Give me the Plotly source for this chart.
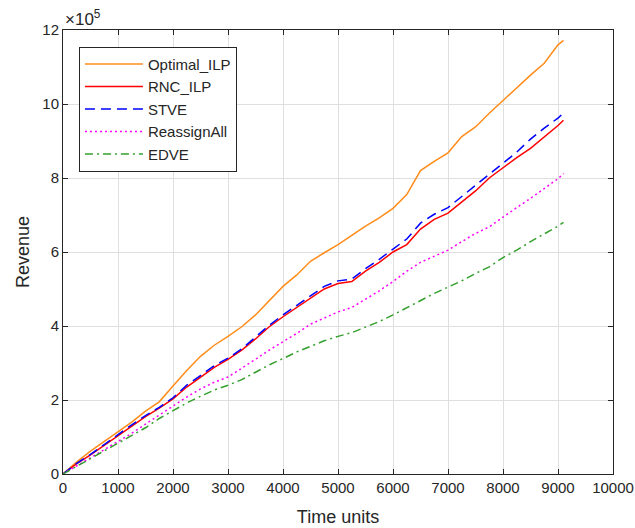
import plotly.graph_objects as go

# Time units
time_units = [0, 250, 500, 750, 1000, 1250, 1500, 1750, 2000, 2250, 2500, 2750, 3000,
              3250, 3500, 3750, 4000, 4250, 4500, 4750, 5000, 5250, 5500, 5750, 6000,
              6250, 6500, 6750, 7000, 7250, 7500, 7750, 8000, 8250, 8500, 8750, 9000, 9100]

# Revenue in units of 10^5
optimal_ilp = [0, 0.33, 0.62, 0.88, 1.12, 1.4, 1.7, 1.95, 2.38, 2.8, 3.18, 3.48, 3.72,
               3.98, 4.3, 4.68, 5.07, 5.38, 5.75, 5.98, 6.2, 6.45, 6.7, 6.92, 7.18,
               7.55, 8.2, 8.45, 8.68, 9.12, 9.38, 9.75, 10.1, 10.45, 10.78, 11.1, 11.6, 11.72]
rnc_ilp = [0, 0.28, 0.52, 0.78, 1.03, 1.3, 1.55, 1.78, 2.03, 2.35, 2.62, 2.88, 3.1,
           3.35, 3.65, 3.98, 4.25, 4.5, 4.75, 5.0, 5.15, 5.2, 5.48, 5.72, 6.0,
           6.2, 6.62, 6.88, 7.05, 7.35, 7.65, 8.0, 8.28, 8.55, 8.8, 9.1, 9.42, 9.56]
stve = [0, 0.29, 0.53, 0.8, 1.05, 1.33, 1.58, 1.8, 2.06, 2.4, 2.66, 2.93, 3.13,
        3.38, 3.7, 4.02, 4.3, 4.55, 4.82, 5.07, 5.22, 5.27, 5.55, 5.8, 6.08,
        6.35, 6.78, 7.02, 7.2, 7.5, 7.82, 8.12, 8.42, 8.7, 9.05, 9.35, 9.62, 9.76]
reassign_all = [0, 0.22, 0.44, 0.66, 0.88, 1.1, 1.35, 1.6, 1.85, 2.08, 2.3, 2.48, 2.62,
                2.85, 3.1, 3.35, 3.57, 3.8, 4.05, 4.22, 4.38, 4.5, 4.72, 4.95, 5.2,
                5.48, 5.72, 5.88, 6.05, 6.28, 6.5, 6.68, 6.95, 7.2, 7.45, 7.72, 7.98, 8.12]
edve = [0, 0.21, 0.42, 0.63, 0.85, 1.05, 1.25, 1.5, 1.72, 1.92, 2.1, 2.27, 2.4,
        2.55, 2.75, 2.95, 3.12, 3.3, 3.45, 3.6, 3.72, 3.82, 3.97, 4.12, 4.3,
        4.5, 4.7, 4.88, 5.05, 5.22, 5.42, 5.6, 5.85, 6.05, 6.28, 6.48, 6.7, 6.8]

x_ticks = [0, 1000, 2000, 3000, 4000, 5000, 6000, 7000, 8000, 9000, 10000]
x_tick_labels = ["0", "1000", "2000", "3000", "4000", "5000", "6000", "7000", "8000", "9000", "10000"]
y_ticks = [0, 2, 4, 6, 8, 10, 12]
y_tick_labels = ["0", "2", "4", "6", "8", "10", "12"]

series = [
    ("Optimal_ILP", optimal_ilp, "#FF8C1A", "solid"),
    ("RNC_ILP", rnc_ilp, "#FF0000", "solid"),
    ("STVE", stve, "#0000FF", "10px,6px"),
    ("ReassignAll", reassign_all, "#FF00FF", "2px,3px"),
    ("EDVE", edve, "#33A02C", "8px,4px,2px,4px"),
]

FONT = "Liberation Sans, Arial, sans-serif"
AX = "#262626"

fig = go.Figure()
for name, vals, color, dash in series:
    fig.add_trace(go.Scatter(
        x=time_units, y=vals, name=name, mode="lines", legendgroup=name,
        line=dict(color=color, width=1.5, dash=dash),
    ))

axis_common = dict(
    showgrid=True, gridcolor="#DFDFDF", gridwidth=1,
    showline=True, linecolor=AX, linewidth=1, mirror="ticks",
    ticks="inside", ticklen=5, tickcolor=AX, tickwidth=1,
    zeroline=False, automargin=False,
    tickfont=dict(family=FONT, size=15, color=AX),
)

fig.update_layout(
    width=635, height=528,
    margin=dict(l=63, r=22, t=30, b=54),
    paper_bgcolor="white", plot_bgcolor="white",
    font=dict(family=FONT, color=AX),
    xaxis=dict(range=[0, 10000], tickvals=x_ticks, ticktext=x_tick_labels,
               title=dict(text="Time units", font=dict(family=FONT, size=18, color=AX), standoff=15),
               **axis_common),
    yaxis=dict(range=[0, 12], tickvals=y_ticks, ticktext=y_tick_labels,
               title=dict(text="Revenue", font=dict(family=FONT, size=18, color=AX), standoff=8),
               **axis_common),
    legend=dict(x=0.029, y=0.962, xanchor="left", yanchor="top",
                bgcolor="white", bordercolor=AX, borderwidth=1,
                font=dict(family=FONT, size=15, color=AX),
                traceorder="grouped", tracegroupgap=0, itemwidth=58),
    annotations=[dict(text="×10<sup>5</sup>", xref="paper", yref="paper",
                      x=0.0, y=1.0, xanchor="left", yanchor="bottom", yshift=-1,
                      showarrow=False, font=dict(family=FONT, size=17, color=AX))],
)

fig.write_html("out.html", config={"displayModeBar": False},
               post_script="document.body.style.margin='0';document.body.style.padding='0';")
